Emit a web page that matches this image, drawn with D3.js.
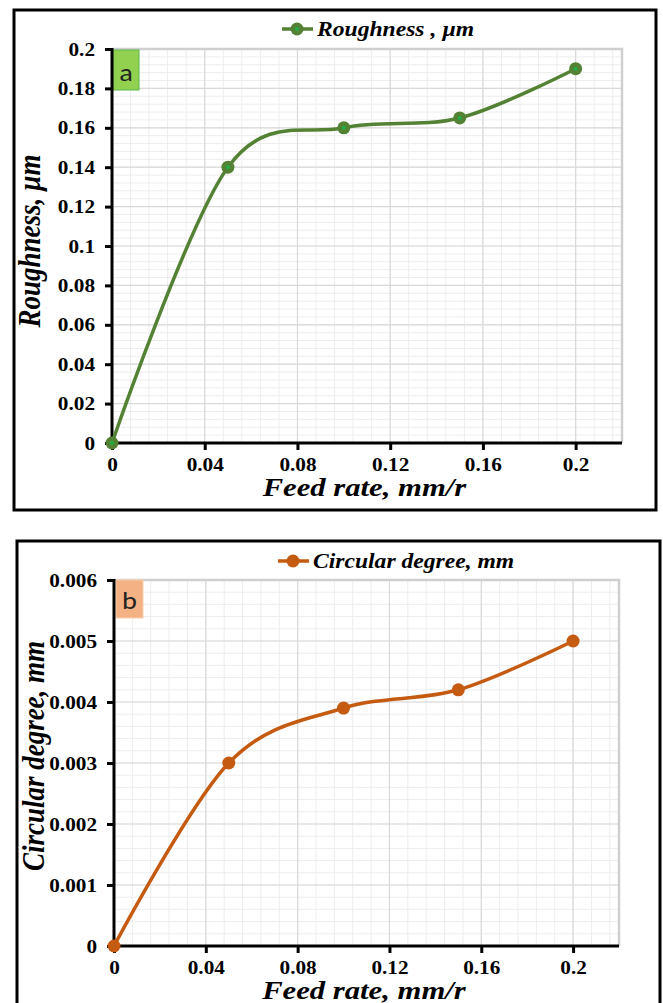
<!DOCTYPE html>
<html>
<head>
  <meta charset="utf-8">
  <title>Feed rate charts</title>
  <script src="https://d3js.org/d3.v7.min.js"></script>
  <style>
    body {
      margin: 0;
      padding: 0;
      background-color: white;
    }
    svg {
      font-family: "Liberation Serif", "Times New Roman", serif;
    }
    .title {
      font-weight: bold;
      font-style: italic;
    }
  </style>
</head>
<body>

  <div id="chart"></div>

  <script>
    // Data
    var feedRate = [0, 0.05, 0.1, 0.15, 0.2];
    var roughness = [0, 0.14, 0.16, 0.165, 0.19];
    var circularDegree = [0, 0.003, 0.0039, 0.0042, 0.005];

    var xTicks = [0, 0.04, 0.08, 0.12, 0.16, 0.2];
    var roughTicks = [0, 0.02, 0.04, 0.06, 0.08, 0.1, 0.12, 0.14, 0.16, 0.18, 0.2];
    var circTicks = [0, 0.001, 0.002, 0.003, 0.004, 0.005, 0.006];

    // the picture is a little stretched sideways, text too
    var stretch = 1.18;
    var serif = "'Liberation Serif', 'Times New Roman', serif";

    var svg = d3.select("#chart")
      .append("svg")
        .attr("width", 663)
        .attr("height", 1003);

    function drawPanel(p) {
      var g = svg.append("g");

      // outer frame
      g.append("rect")
        .attr("x", p.frame[0]).attr("y", p.frame[1])
        .attr("width", p.frame[2]).attr("height", p.frame[3])
        .attr("fill", "none").attr("stroke", "black").attr("stroke-width", 3);

      var x = d3.scaleLinear().domain([0, 0.22]).range([p.left, p.right]);
      var y = d3.scaleLinear().domain([0, p.yMax]).range([p.bottom, p.top]);

      // minor grid
      var xMinor = d3.range(0, 0.2201, 0.008);
      var yMinor = d3.range(0, p.yMax * 1.0001, p.yMinor);
      g.selectAll(".xminor").data(xMinor).enter().append("line")
        .attr("x1", function(d) { return x(d); }).attr("x2", function(d) { return x(d); })
        .attr("y1", p.top).attr("y2", p.bottom)
        .attr("stroke", "#ededed").attr("stroke-width", 1);
      g.selectAll(".yminor").data(yMinor).enter().append("line")
        .attr("x1", p.left).attr("x2", p.right)
        .attr("y1", function(d) { return y(d); }).attr("y2", function(d) { return y(d); })
        .attr("stroke", "#ededed").attr("stroke-width", 1);

      // major grid
      g.selectAll(".xmajor").data(xTicks).enter().append("line")
        .attr("x1", function(d) { return x(d); }).attr("x2", function(d) { return x(d); })
        .attr("y1", p.top).attr("y2", p.bottom)
        .attr("stroke", "#d9d9d9").attr("stroke-width", 1.2);
      g.selectAll(".ymajor").data(p.yTicks).enter().append("line")
        .attr("x1", p.left).attr("x2", p.right)
        .attr("y1", function(d) { return y(d); }).attr("y2", function(d) { return y(d); })
        .attr("stroke", "#d9d9d9").attr("stroke-width", 1.2);

      // plot area border (top / right)
      g.append("path")
        .attr("d", "M" + p.left + "," + p.top + "H" + p.right + "V" + p.bottom)
        .attr("fill", "none").attr("stroke", "#cfcfcf").attr("stroke-width", 2.5);

      // label box
      g.append("rect")
        .attr("x", p.box[0]).attr("y", p.box[1])
        .attr("width", p.box[2]).attr("height", p.box[3])
        .attr("fill", p.boxFill).attr("stroke", p.boxStroke).attr("stroke-width", 1);
      g.append("text")
        .attr("transform", "translate(" + (p.box[0] + p.box[2] / 2) + "," + (p.box[1] + p.box[3] - 9) + ") scale(" + stretch + ",1)")
        .attr("text-anchor", "middle")
        .style("font-family", "Carlito, 'Liberation Sans', sans-serif")
        .style("font-size", "24px")
        .attr("fill", "#222")
        .text(p.letter);

      // axes
      var yAxis = d3.axisLeft(y).tickValues(p.yTicks).tickSize(7).tickFormat(function(d) { return d3.format("~g")(d); });
      var xAxis = d3.axisBottom(x).tickValues(xTicks).tickSize(7).tickFormat(function(d) { return d3.format("~g")(d); });

      var ya = g.append("g").attr("transform", "translate(" + p.left + ",0)").call(yAxis);
      var xa = g.append("g").attr("transform", "translate(0," + p.bottom + ")").call(xAxis);

      [ya, xa].forEach(function(a) {
        a.attr("font-family", serif).attr("font-size", 18).attr("font-weight", "bold");
        a.select(".domain").attr("stroke", "black").attr("stroke-width", 3);
        a.selectAll(".tick line").attr("stroke", "black").attr("stroke-width", 3);
        a.selectAll(".tick text")
          .attr("fill", "black")
          .style("font-family", serif)
          .style("font-size", "18px")
          .style("font-weight", "bold");
      });
      // trim domain ends (no outer ticks)
      ya.select(".domain").attr("d", "M0," + (p.top - 1) + "V" + (p.bottom + 1.5));
      xa.select(".domain").attr("d", "M" + (p.left - 1.5) + ",0H" + p.right);

      ya.selectAll(".tick text")
        .attr("x", null).attr("dy", null)
        .attr("transform", "translate(-17,6) scale(" + stretch + ",1)")
        .attr("text-anchor", "end");
      xa.selectAll(".tick text")
        .attr("y", null).attr("dy", null)
        .attr("transform", "translate(0,28) scale(" + stretch + ",1)")
        .attr("text-anchor", "middle");

      // axis titles
      g.append("text")
        .attr("class", "title")
        .attr("transform", "translate(" + (p.left + p.right) / 2 * 0.993 + "," + (p.bottom + 53) + ") scale(" + stretch + ",1)")
        .attr("text-anchor", "middle")
        .style("font-size", "26px")
        .text("Feed rate, mm/r");
      g.append("text")
        .attr("class", "title")
        .attr("transform", "translate(" + p.yTitleX + "," + p.yTitleY + ") scale(" + stretch + ",1) rotate(-90)")
        .attr("text-anchor", "middle")
        .style("font-size", "27px")
        .text(p.yTitle);

      // series line
      var line = d3.line()
        .x(function(d) { return x(d[0]); })
        .y(function(d) { return y(d[1]); })
        .curve(d3.curveCardinal.tension(0));
      var pts = feedRate.map(function(f, i) { return [f, p.values[i]]; });

      g.append("path")
        .datum(pts)
        .attr("d", line)
        .attr("fill", "none")
        .attr("stroke", p.color)
        .attr("stroke-width", 3.5);

      g.selectAll(".marker").data(pts).enter().append("circle")
        .attr("cx", function(d) { return x(d[0]); })
        .attr("cy", function(d) { return y(d[1]); })
        .attr("r", 6.5)
        .attr("fill", p.color);
      if (p.dot) {
        g.selectAll(".dot").data(pts).enter().append("circle")
          .attr("cx", function(d) { return x(d[0]); })
          .attr("cy", function(d) { return y(d[1]); })
          .attr("r", 2)
          .attr("fill", p.dot);
      }

      // legend
      var lg = g.append("g").attr("transform", "translate(" + p.legend[0] + "," + p.legend[1] + ")");
      lg.append("line").attr("x1", 0).attr("x2", 31).attr("y1", 0).attr("y2", 0)
        .attr("stroke", p.color).attr("stroke-width", 3.5);
      lg.append("circle").attr("cx", 15).attr("cy", 0).attr("r", 6.5).attr("fill", p.color);
      if (p.dot) lg.append("circle").attr("cx", 15).attr("cy", 0).attr("r", 2).attr("fill", p.dot);
      lg.append("text")
        .attr("class", "title")
        .attr("transform", "translate(35,7) scale(" + stretch + ",1)")
        .style("font-size", "20px")
        .text(p.legendText);
    }

    drawPanel({
      frame: [14, 10, 642, 500],
      left: 112, right: 622, top: 49, bottom: 443,
      yMax: 0.2, yTicks: roughTicks, yMinor: 0.004,
      values: roughness,
      color: "#548235", dot: "#1fae45",
      box: [113, 50, 26, 40], boxFill: "#92D050", boxStroke: "#5cb84a", letter: "a",
      yTitle: "Roughness, \u00b5m", yTitleX: 40, yTitleY: 241,
      legend: [282, 29], legendText: "Roughness , \u00b5m"
    });

    drawPanel({
      frame: [17, 541, 643, 480],
      left: 114, right: 619, top: 580, bottom: 946,
      yMax: 0.006, yTicks: circTicks, yMinor: 0.0002,
      values: circularDegree,
      color: "#C55A11", dot: null,
      box: [116, 580, 27, 38], boxFill: "#F4B183", boxStroke: "#f8d0a8", letter: "b",
      yTitle: "Circular degree, mm", yTitleX: 44, yTitleY: 756,
      legend: [278, 561], legendText: "Circular degree, mm"
    });
  </script>

</body>
</html>
